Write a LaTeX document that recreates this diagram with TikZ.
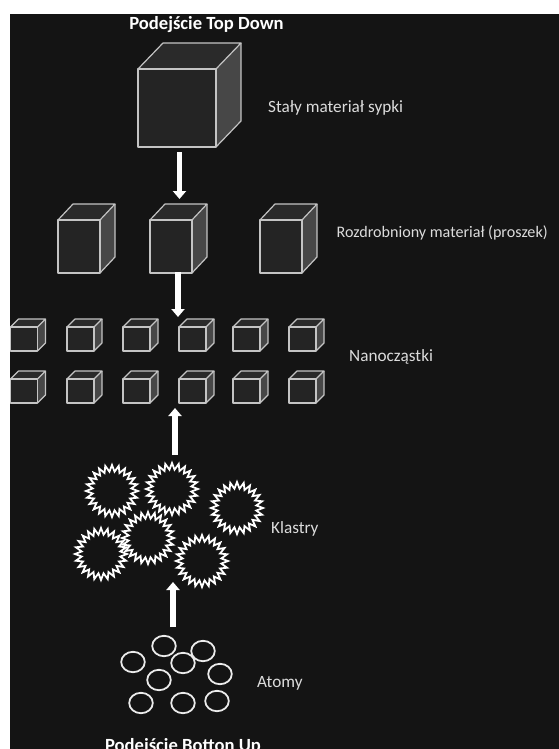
\documentclass[tikz,border=0pt]{standalone}
\usepackage{fontspec}
\setmainfont{Carlito}
\usetikzlibrary{arrows.meta}
\definecolor{bg}{HTML}{141414}
\definecolor{edgec}{HTML}{C4C4C4}
\definecolor{frontc}{HTML}{242424}
\definecolor{topc}{HTML}{2A2A2A}
\definecolor{sidec}{HTML}{474747}
\definecolor{txt}{HTML}{DCDCDC}
\tikzset{
  cubeedge/.style={draw=edgec, line width=1.2pt, line join=round},
  lbl/.style={text=txt, font=\fontsize{17.2}{20}\selectfont, inner sep=0pt, anchor=base west},
  ttl/.style={text=white, font=\bfseries\fontsize{18.6}{21}\selectfont, inner sep=0pt, anchor=base},
  fat/.style={draw=white, line width=5.5pt, -{Triangle[width=13pt,length=8pt]}},
  burst/.style={draw=white, line width=1.8pt, miter limit=4},
  atom/.style={draw=white!92!black, line width=1.8pt},
}
% x y w h dx dy  (front face top-left, width, height, depth offsets)
\newcommand\drawcube[6]{%
  \fill[frontc] (#1,#2) rectangle ++(#3,#4);
  \fill[topc] (#1,#2) -- ++(#5,-#6) -- ++(#3,0) -- ++(-#5,#6) -- cycle;
  \fill[sidec] ({#1+#3},#2) -- ++(#5,-#6) -- ++(0,#4) -- ++(-#5,#6) -- cycle;
  \draw[cubeedge] (#1,#2) rectangle ++(#3,#4);
  \draw[cubeedge] (#1,#2) -- ++(#5,-#6) -- ++(#3,0) -- ++(-#5,#6);
  \draw[cubeedge] ({#1+#3+#5},{#2-#6}) -- ++(0,#4) -- ++(-#5,#6);
}
\newcommand\burstat[2]{%
  \draw[burst, shift={(#1,#2)}] (0:26) \foreach \i in {1,...,47} { -- ({\i*7.5}:{26-6.5*mod(\i,2)}) } -- cycle;
}
\begin{document}
\begin{tikzpicture}[x=1pt,y=-1pt]
\useasboundingbox (0,0) rectangle (559,749);
\fill[white] (0,0) rectangle (559,749);
\fill[bg] (10,14) rectangle (559,749);

% titles
\node[ttl] (top) at (206.5,30) {Podejście Top Down};
\node[ttl] (bottom) at (183,751) {Podejście Botton Up};

% big cube
\drawcube{138}{69}{78}{78}{25}{26}
\node[lbl] (l1) at (268,113) {Stały materiał sypki};

% row 2
\foreach \x in {58,150,260} { \drawcube{\x}{220}{42}{53}{15}{16} }
\node[lbl, font=\fontsize{16.1}{19}\selectfont] (l2) at (336.5,237) {Rozdrobniony materiał (proszek)};

% rows 3 and 4
\foreach \x in {10.5,67,123,179,233,289} {
  \drawcube{\x}{327}{27}{24}{8}{8}
  \drawcube{\x}{379}{27}{24}{8}{8}
}
\node[lbl] (l3) at (349,361) {Nanocząstki};

% clusters
\burstat{112}{491}
\burstat{172}{489}
\burstat{237}{508}
\burstat{101}{554}
\burstat{148}{538}
\burstat{202}{561}
\node[lbl] (l4) at (271,533) {Klastry};

% atoms
\foreach \cx/\cy in {164/646, 203/651, 133/662, 183/663, 220/674, 159/680, 141/703, 183/703, 217/701} {
  \draw[atom] (\cx,\cy) ellipse [x radius=11.8, y radius=10.2];
}
\node[lbl] (l5) at (257,687) {Atomy};

% arrows
\coordinate (a1s) at (179.5,152); \coordinate (a1e) at (179.5,199);
\coordinate (a2s) at (178,272);   \coordinate (a2e) at (178,317);
\coordinate (a3s) at (175,455);   \coordinate (a3e) at (175,408);
\coordinate (a4s) at (173,627);   \coordinate (a4e) at (173,582);
\draw[fat] (a1s) -- (a1e);
\draw[fat] (a2s) -- (a2e);
\draw[fat] (a3s) -- (a3e);
\draw[fat] (a4s) -- (a4e);

% white margin strips on top
\fill[white] (0,0) rectangle (10,749);
\fill[white] (0,0) rectangle (559,14);
\end{tikzpicture}
\end{document}
